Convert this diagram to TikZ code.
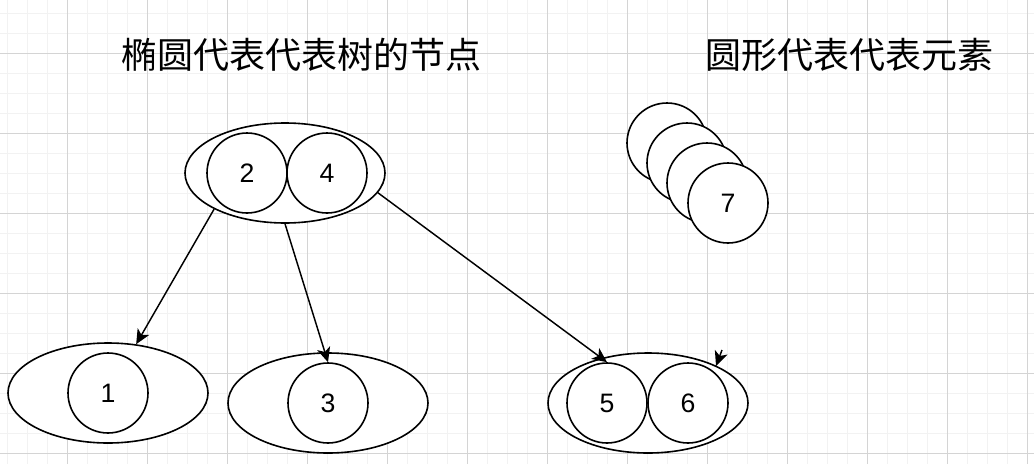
\documentclass[tikz,border=0pt]{standalone}
\usepackage{fontspec}
\setmainfont{Liberation Sans}
\newfontfamily\cjk{Noto Sans CJK SC}
\usetikzlibrary{shapes.geometric,arrows.meta}
\definecolor{gminor}{RGB}{242,242,242}
\definecolor{gmajor}{RGB}{212,212,212}
\tikzset{
  bigell/.style={draw, line width=1.2pt, ellipse, minimum width=150pt, minimum height=75pt, inner sep=0pt, fill=white},
  elem/.style={draw, line width=1.2pt, circle, minimum size=60pt, inner sep=0pt, fill=white, font=\fontsize{20}{24}\selectfont},
  arr/.style={line width=1.1pt, -{Stealth[length=11pt, width=10pt, inset=3pt]}},
  title/.style={font=\cjk\fontsize{27}{32}\selectfont, inner sep=0pt}
}
\begin{document}
\begin{tikzpicture}[x=0.75pt, y=-0.75pt]
\useasboundingbox (0,0) rectangle (1034,464);
\fill[white] (0,0) rectangle (1034,464);
% grid
\foreach \i in {0,...,51} \draw[gminor, line width=0.75pt] (7+20*\i,0) -- (7+20*\i,464);
\foreach \j in {0,...,22} \draw[gminor, line width=0.75pt] (0,13+20*\j) -- (1034,13+20*\j);
\foreach \i in {0,...,12} \draw[gmajor, line width=0.75pt] (67+80*\i,0) -- (67+80*\i,464);
\foreach \j in {0,...,5} \draw[gmajor, line width=0.75pt] (0,53+80*\j) -- (1034,53+80*\j);
% titles
\node[title] (t1) at (301,55) {椭圆代表代表树的节点};
\node[title] (t2) at (849,55) {圆形代表代表元素};
% top node
\node[bigell] (eTop) at (285,173) {};
\node[elem] (c2) at (247,173) {2};
\node[elem] (c4) at (327,173) {4};
% bottom nodes
\node[bigell] (e1) at (108,393) {};
\node[elem] (c1) at (108,393) {1};
\node[bigell] (e3) at (328,403) {};
\node[elem] (c3) at (328,403) {3};
\node[bigell] (e56) at (648,403) {};
\node[elem] (c5) at (607,403) {5};
\node[elem] (c6) at (688,403) {6};
% stacked elements
\node[elem] (s1) at (667,143) {};
\node[elem] (s2) at (687,163) {};
\node[elem] (s3) at (707,183) {};
\node[elem] (s4) at (728,203) {7};
% arrows
\draw[arr] (eTop.207) -- (e1.60);
\draw[arr] (eTop.south) -- (c3.north);
\draw[arr] (eTop.-12) -- (c5.north);
\coordinate (d1) at (722,350);
\coordinate (d2) at (716,366);
\draw[arr] (d1) -- (d2);
\end{tikzpicture}
\end{document}
